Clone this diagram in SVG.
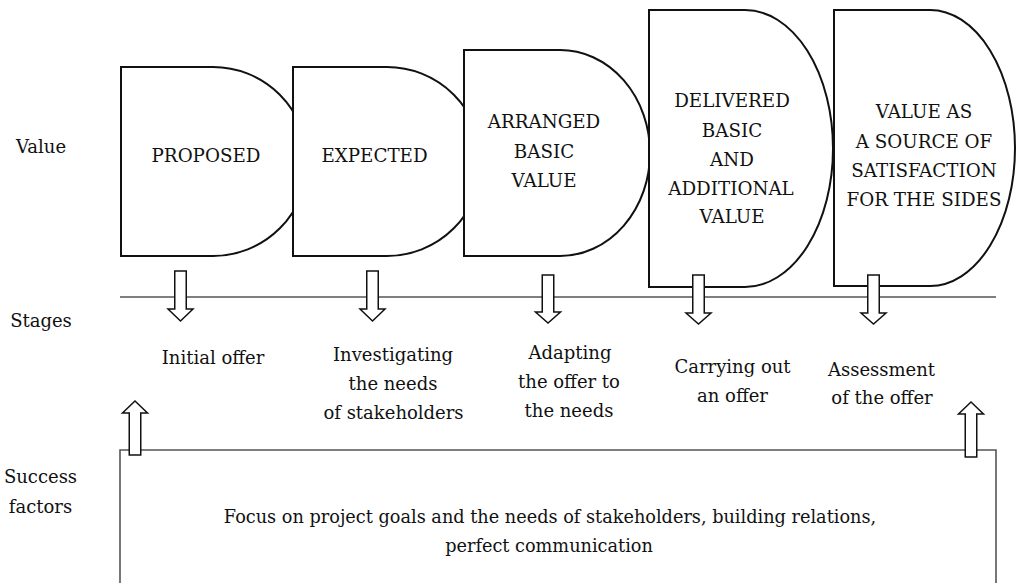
<svg xmlns="http://www.w3.org/2000/svg" width="1018" height="583" viewBox="0 0 1018 583">
  <style>
    text { font-family: "DejaVu Serif", "Liberation Serif", serif; font-size: 18px; fill: #111; text-anchor: middle; }
    .caps { font-size: 18.3px; }
    .body { font-size: 17.7px; }
    .shape { fill: #fff; stroke: #111; stroke-width: 2; }
    .guide { fill: none; stroke: #555; stroke-width: 1.6; }
    .arrow { fill: #fff; stroke: #111; stroke-width: 1.5; stroke-linejoin: miter; }
  </style>
  <rect width="1018" height="583" fill="#fff"/>

  <!-- row labels -->
  <g id="row-labels">
    <text x="41" y="153">Value</text>
    <text x="41" y="327">Stages</text>
    <text x="40.5" y="483">Success</text>
    <text x="40.5" y="513">factors</text>
  </g>

  <!-- guide line and success-factor box -->
  <g id="guides">
    <line class="guide" x1="120" y1="297" x2="996" y2="297"/>
  </g>
  <g id="success-box">
    <path class="guide" d="M120,584 V450 H996 V584"/>
    <text class="body" x="550" y="523">Focus on project goals and the needs of stakeholders, building relations,</text>
    <text class="body" x="549" y="552">perfect communication</text>
  </g>

  <!-- value nodes -->
  <g id="node-proposed">
    <path class="shape" d="M121,67 H213 A94.5,94.5 0 0 1 213,256 H121 Z"/>
    <text class="caps" x="206" y="162">PROPOSED</text>
  </g>
  <g id="node-expected">
    <path class="shape" d="M293,67 H387 A94.5,94.5 0 0 1 387,256 H293 Z"/>
    <text class="caps" x="374.5" y="162">EXPECTED</text>
  </g>
  <g id="node-arranged">
    <path class="shape" d="M464,50 H560 A90,103 0 0 1 560,256 H464 Z"/>
    <text class="caps" x="544" y="128">ARRANGED</text>
    <text class="caps" x="544" y="158">BASIC</text>
    <text class="caps" x="544" y="187">VALUE</text>
  </g>
  <g id="node-delivered">
    <path class="shape" d="M649,10 H745 A88,138.5 0 0 1 745,287 H649 Z"/>
    <text class="caps" x="732" y="107">DELIVERED</text>
    <text class="caps" x="732" y="137">BASIC</text>
    <text class="caps" x="732" y="166">AND</text>
    <text class="caps" x="731" y="195">ADDITIONAL</text>
    <text class="caps" x="732" y="223">VALUE</text>
  </g>
  <g id="node-satisfaction">
    <path class="shape" d="M834,10 H930 A85,138 0 0 1 930,286 H834 Z"/>
    <text class="caps" x="924" y="118">VALUE AS</text>
    <text class="caps" x="924" y="148">A SOURCE OF</text>
    <text class="caps" x="924" y="177">SATISFACTION</text>
    <text class="caps" x="924" y="206">FOR THE SIDES</text>
  </g>

  <!-- stage nodes -->
  <g id="stage-initial">
    <text x="213" y="364">Initial offer</text>
  </g>
  <g id="stage-investigating">
    <text x="393" y="361">Investigating</text>
    <text x="393" y="390">the needs</text>
    <text x="393.5" y="419">of stakeholders</text>
  </g>
  <g id="stage-adapting">
    <text x="570" y="359">Adapting</text>
    <text x="569" y="388">the offer to</text>
    <text x="569" y="417">the needs</text>
  </g>
  <g id="stage-carrying">
    <text x="732.5" y="373">Carrying out</text>
    <text x="732.5" y="402">an offer</text>
  </g>
  <g id="stage-assessment">
    <text x="881.5" y="376">Assessment</text>
    <text x="882" y="404">of the offer</text>
  </g>

  <!-- connectors: hollow block arrows -->
  <g id="connectors">
    <path class="arrow" d="M174.75,271 H186.25 V309 H193 L180.5,321 L168,309 H174.75 Z"/>
    <path class="arrow" d="M366.75,271 H378.25 V309 H385 L372.5,321 L360,309 H366.75 Z"/>
    <path class="arrow" d="M542.25,275 H553.75 V312 H560.5 L548,323 L535.5,312 H542.25 Z"/>
    <path class="arrow" d="M692.75,275 H704.25 V313 H711 L698.5,324 L686,313 H692.75 Z"/>
    <path class="arrow" d="M867.75,275 H879.25 V313 H886 L873.5,324 L861,313 H867.75 Z"/>
    <path class="arrow" d="M129.25,455 H140.75 V413 H147.5 L135,401 L122.5,413 H129.25 Z"/>
    <path class="arrow" d="M965.25,457 H976.75 V414 H983.5 L971,402 L958.5,414 H965.25 Z"/>
  </g>
</svg>
